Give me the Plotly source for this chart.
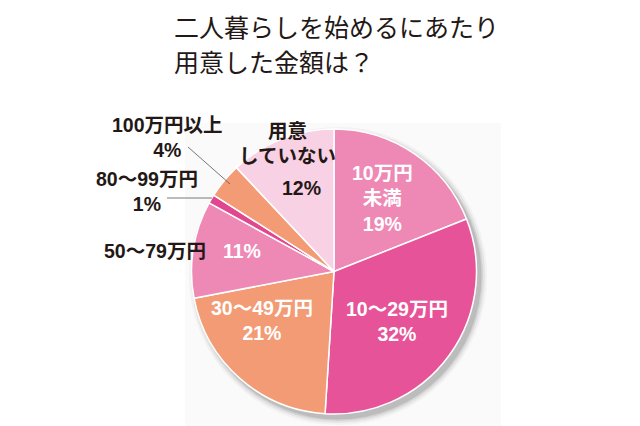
import plotly.graph_objects as go

# ---- data ----
categories = ["10万円未満", "10～29万円", "30～49万円", "50～79万円", "80～99万円", "100万円以上", "用意していない"]
values = [19, 32, 21, 11, 1, 4, 12]
slice_colors = ["#ee88b5", "#e75398", "#f29b75", "#ee88b5", "#e2468e", "#f29b75", "#f9d1e4"]

title_lines = ["二人暮らしを始めるにあたり", "用意した金額は？"]

W, H = 640, 426
OFF = 8  # page body margin offset

def px(x):
    return (x - OFF) / W

def py(y):
    return 1 - (y - OFF) / H

fig = go.Figure()
fig.add_trace(go.Pie(
    labels=categories,
    values=values,
    sort=False,
    direction="clockwise",
    rotation=0,
    marker=dict(colors=slice_colors, line=dict(color="white", width=1.5)),
    textinfo="none",
    hoverinfo="label+percent",
    showlegend=False,
    domain=dict(x=[px(191), px(477)], y=[py(414), py(129)]),
))

shapes = []
# light gray panel behind the pie
shapes.append(dict(type="rect", xref="paper", yref="paper",
                   x0=px(185), x1=px(501), y0=py(440), y1=py(123),
                   fillcolor="#fafafa", line=dict(width=0), layer="below"))
# soft shadow (bottom-right)
cx, cy, r = 338, 276, 143
for k, op in [(6, 0.04), (4, 0.07), (2, 0.10), (0.5, 0.14)]:
    shapes.append(dict(type="circle", xref="paper", yref="paper",
                       x0=px(cx - r - k), x1=px(cx + r + k),
                       y0=py(cy + r + k), y1=py(cy - r - k),
                       fillcolor=f"rgba(60,60,60,{op})", line=dict(width=0), layer="below"))
# leader lines
shapes.append(dict(type="line", xref="paper", yref="paper",
                   x0=px(188), y0=py(147), x1=px(230), y1=py(184),
                   line=dict(color="#555555", width=0.8)))
shapes.append(dict(type="line", xref="paper", yref="paper",
                   x0=px(167), y0=py(198), x1=px(212), y1=py(198),
                   line=dict(color="#555555", width=0.8)))

LABEL_FONT = "Liberation Sans, Noto Sans CJK JP"
ann = []
def add_text(text, x, y, color, size=19.5, weight="bold", xanchor="center",
             family=LABEL_FONT):
    ann.append(dict(text=text, x=px(x), y=py(y), xref="paper", yref="paper",
                    showarrow=False, xanchor=xanchor, yanchor="middle",
                    font=dict(family=family, size=size, color=color, weight=weight)))

# title
add_text(title_lines[0], 172, 26, "#231815", size=25, weight="normal",
         xanchor="left", family="Noto Sans CJK JP")
add_text(title_lines[1], 172, 61, "#231815", size=25, weight="normal",
         xanchor="left", family="Noto Sans CJK JP")

# inside labels (white)
add_text("10万円<br>未満<br>19%", 382, 198, "white")
add_text("10～29万円<br>32%", 397, 321, "white")
add_text("30～49万円<br>21%", 262, 320, "white")
add_text("11%", 242, 251, "white")

# dark labels
dark = "#231815"
add_text("用意<br>していない", 287, 143, dark)
add_text("12%", 301, 188, dark)
add_text("50～79万円", 155, 251, dark)
add_text("80～99万円<br>1%", 147, 191, dark)
add_text("100万円以上<br>4%", 167, 138, dark)

fig.update_layout(
    width=W, height=H,
    margin=dict(l=0, r=0, t=0, b=0),
    paper_bgcolor="white",
    plot_bgcolor="white",
    shapes=shapes,
    annotations=ann,
)

fig.write_html("out.html")
